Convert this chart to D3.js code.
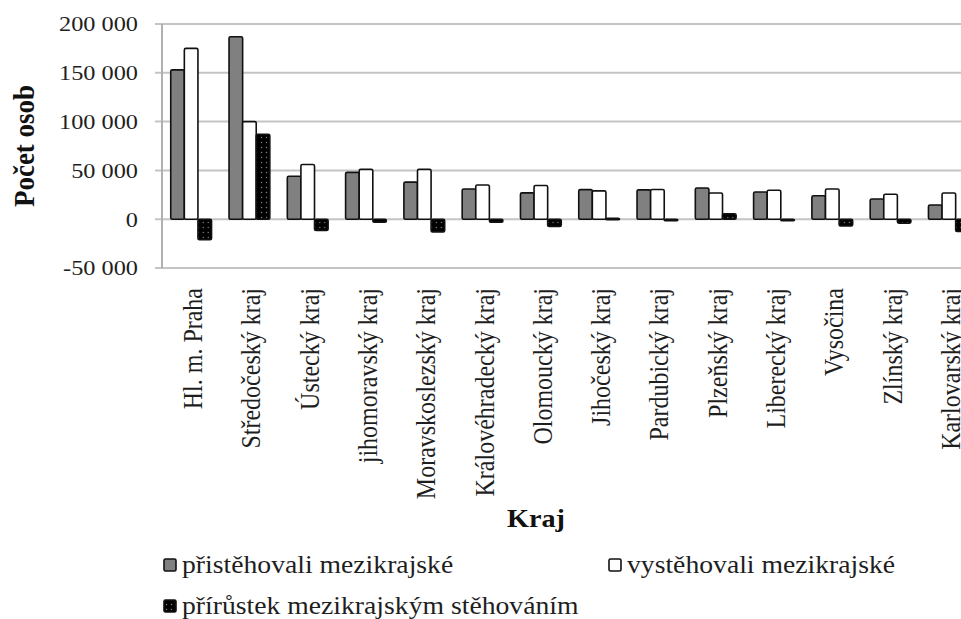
<!DOCTYPE html>
<html>
<head>
<meta charset="utf-8">
<script src="https://cdn.jsdelivr.net/npm/d3@7"></script>
<style>
  body { margin: 0; background: #fff; }
  .reg { font-family: 'Liberation Serif', 'Times New Roman', serif; }
  .bold { font-family: 'Liberation Serif', 'Times New Roman', serif; font-weight: bold; }
</style>
</head>
<body>
<div id="chart"></div>
<script>
// data
const kraje = ["Hl. m. Praha", "Středočeský kraj", "Ústecký kraj", "jihomoravský kraj",
  "Moravskoslezský kraj", "Královéhradecký kraj", "Olomoucký kraj", "Jihočeský kraj",
  "Pardubický kraj", "Plzeňský kraj", "Liberecký kraj", "Vysočina", "Zlínský kraj", "Karlovarský kraj"]
const pristehovali = [153000, 187000, 44000, 48000, 38000, 31000, 27000, 30300, 30000, 32000, 27900, 24100, 20700, 14600]
const vystehovali = [175000, 100000, 56000, 51000, 51000, 35000, 34500, 29000, 30500, 26800, 29600, 31000, 25500, 26800]
const prirustek = [-21000, 87000, -11500, -3000, -13000, -3000, -7500, 1000, -800, 5500, -1500, -7000, -4000, -12500]
const yTicks = [-50000, 0, 50000, 100000, 150000, 200000]
const seriesNames = ["přistěhovali mezikrajské", "vystěhovali mezikrajské", "přírůstek mezikrajským stěhováním"]

const width = 961
const height = 619
const sx = 1.13 // the picture is a bit wider than it is tall, text too

const svg = d3.select("#chart").append("svg")
  .attr("width", width)
  .attr("height", height)

// dotted black fill
const pat = svg.append("defs").append("pattern")
  .attr("id", "dots")
  .attr("patternUnits", "userSpaceOnUse")
  .attr("width", 5)
  .attr("height", 5)
pat.append("rect").attr("width", 5).attr("height", 5).attr("fill", "#000")
pat.append("circle").attr("cx", 2.5).attr("cy", 2.5).attr("r", 0.7).attr("fill", "#888")

const fills = ["#808080", "#ffffff", "url(#dots)"]

const x = d3.scaleBand()
  .domain(kraje)
  .range([162, 978])
  .paddingInner(0.3)
  .paddingOuter(0.15)

const x1 = d3.scaleBand()
  .domain([0, 1, 2])
  .range([0, x.bandwidth()])

const y = d3.scaleLinear()
  .domain([-50000, 200000])
  .range([268, 24])

// grid
svg.append("g")
  .selectAll("line")
  .data(yTicks)
  .enter()
  .append("line")
  .attr("x1", 155)
  .attr("x2", width)
  .attr("y1", d => y(d))
  .attr("y2", d => y(d))
  .attr("stroke", "#c4c4c4")
  .attr("stroke-width", 2)

svg.append("line")
  .attr("x1", 162).attr("x2", 162)
  .attr("y1", y(200000)).attr("y2", y(-50000))
  .attr("stroke", "#b0b0b0")
  .attr("stroke-width", 2)

// tick labels
const fmt = d => d3.format(",")(d).replace(/,/g, " ").replace("−", "-")
svg.append("g")
  .selectAll("text")
  .data(yTicks)
  .enter()
  .append("text")
  .attr("class", "reg")
  .attr("transform", d => `translate(138, ${y(d)}) scale(${sx}, 1)`)
  .attr("text-anchor", "end")
  .attr("dy", "0.34em")
  .attr("font-size", 21.5)
  .attr("fill", "#1e1e1e")
  .text(fmt)

// bars
const rows = kraje.map((k, i) => ({ kraj: k, vals: [pristehovali[i], vystehovali[i], prirustek[i]] }))
const group = svg.append("g")
  .selectAll("g")
  .data(rows)
  .enter()
  .append("g")
  .attr("transform", d => `translate(${x(d.kraj)}, 0)`)

group.selectAll("rect")
  .data(d => d.vals.map((v, s) => ({ v, s })))
  .enter()
  .append("rect")
  .attr("x", d => x1(d.s))
  .attr("width", x1.bandwidth())
  .attr("y", d => y(Math.max(0, d.v)))
  .attr("height", d => Math.max(1.5, Math.abs(y(d.v) - y(0))))
  .attr("rx", 1.5)
  .attr("fill", d => fills[d.s])
  .attr("stroke", "#111")
  .attr("stroke-width", 1.6)

// category labels
svg.append("g")
  .selectAll("text")
  .data(kraje)
  .enter()
  .append("text")
  .attr("class", "reg")
  .attr("transform", d => `translate(${x(d) + x.bandwidth() / 2 + 2}, 288) scale(${sx}, 1) rotate(-90)`)
  .attr("text-anchor", "end")
  .attr("dy", "0.33em")
  .attr("font-size", 24)
  .attr("fill", "#1e1e1e")
  .text(d => d)

// axis titles
svg.append("text")
  .attr("class", "bold")
  .attr("transform", `translate(23, 146) scale(${sx}, 1) rotate(-90)`)
  .attr("text-anchor", "middle")
  .attr("dy", "0.35em")
  .attr("font-size", 27)
  .attr("fill", "#111")
  .text("Počet osob")

svg.append("text")
  .attr("class", "bold")
  .attr("transform", `translate(536, 518) scale(${sx}, 1)`)
  .attr("text-anchor", "middle")
  .attr("dy", "0.35em")
  .attr("font-size", 25)
  .attr("fill", "#111")
  .text("Kraj")

// legend
const legendPos = [[164, 566], [609, 566], [164, 607]]
const leg = svg.append("g")
  .selectAll("g")
  .data(seriesNames)
  .enter()
  .append("g")
  .attr("transform", (d, i) => `translate(${legendPos[i][0]}, ${legendPos[i][1]})`)

leg.append("rect")
  .attr("x", 0)
  .attr("y", -7)
  .attr("width", 12)
  .attr("height", 12)
  .attr("rx", 1.5)
  .attr("fill", (d, i) => fills[i])
  .attr("stroke", "#111")
  .attr("stroke-width", 1.6)

leg.append("text")
  .attr("class", "reg")
  .attr("transform", `translate(18, 0) scale(${sx}, 1)`)
  .attr("dy", "0.3em")
  .attr("font-size", 24.5)
  .attr("fill", "#1e1e1e")
  .text(d => d)
</script>
</body>
</html>
